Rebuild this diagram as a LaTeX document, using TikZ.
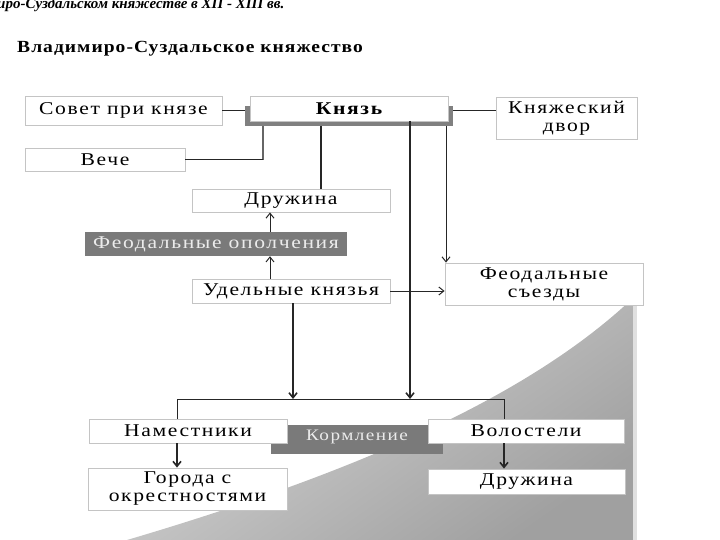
\documentclass[tikz,border=0pt]{standalone}
\usepackage{fontspec}
\setmainfont{Liberation Serif}
\newfontfamily\spaced[LetterSpace=9,FakeStretch=1.2]{Liberation Serif}
\newfontfamily\titlefont[LetterSpace=6,FakeStretch=1.15]{Liberation Serif}
\usetikzlibrary{arrows.meta}
\definecolor{boxgray}{HTML}{C4C4C4}
\definecolor{darkfill}{HTML}{7A7A7A}
\definecolor{shadowgray}{HTML}{808080}
\definecolor{bglight}{HTML}{D8D8D8}
\definecolor{bgdark}{HTML}{A0A0A0}
\tikzset{
  box/.style={draw=boxgray, line width=0.8pt, fill=white, inner sep=0pt,
    font=\spaced\fontsize{18}{18}\selectfont, align=center},
  darkbox/.style={fill=darkfill, draw=none, text=white!92!black, inner sep=0pt,
    font=\spaced\fontsize{18}{18}\selectfont},
  conn/.style={line width=1pt, draw=black!85},
  thickconn/.style={line width=1.6pt, draw=black!85},
  grayconn/.style={line width=2pt, draw=black!60},
  arr/.style={conn, -{Straight Barb[length=5pt,width=8pt]}},
  thickarr/.style={thickconn, -{Straight Barb[length=5pt,width=8pt]}},
}
\begin{document}
\begin{tikzpicture}[x=1pt,y=-1pt]
\useasboundingbox (0,0) rectangle (720,540);
% background shading
\shade[top color=bglight, bottom color=bgdark, shading angle=35]
  (127,540) .. controls (330,480) and (520,405) .. (633,298) -- (633,540) -- cycle;
\fill[white!88!black] (633,300) rectangle (637,540);
% titles
\node[anchor=base west, inner sep=0pt, font=\bfseries\itshape\fontsize{15}{15}\selectfont] (top) at (-3,8.5)
  {иро-Суздальском княжестве в XII - XIII вв.};
\node[anchor=base west, inner sep=0pt, font=\titlefont\bfseries\fontsize{17}{17}\selectfont] (title) at (17,53)
  {Владимиро-Суздальское княжество};
% boxes
\node[box, minimum width=197pt, minimum height=29pt] (sovet) at (123.5,110.5) {Совет при князе};
\node[fill=shadowgray, inner sep=0pt, minimum width=208pt, minimum height=20pt] (ksh) at (349,116) {};
\node[box, minimum width=198pt, minimum height=25pt, font=\spaced\bfseries\fontsize{18}{18}\selectfont] (knyaz) at (349,108.5) {Князь};
\node[box, minimum width=141pt, minimum height=42pt] (dvor) at (566.5,118) {Княжеский\\двор};
\node[box, minimum width=160pt, minimum height=23pt] (veche) at (105,160) {Вече};
\node[box, minimum width=198pt, minimum height=23pt] (druzh1) at (291,200.5) {Дружина};
\node[darkbox, minimum width=262pt, minimum height=24pt] (opol) at (216,244) {Феодальные ополчения};
\node[box, minimum width=198pt, minimum height=24pt] (udel) at (291,291) {Удельные князья};
\node[box, minimum width=198pt, minimum height=42pt] (sezdy) at (544,284) {Феодальные\\съезды};
\node[darkbox, minimum width=172pt, minimum height=29pt] (korm) at (357,439.5) {};
\node[inner sep=0pt, text=white!92!black, font=\spaced\fontsize{16}{16}\selectfont] (kormt) at (357,437) {Кормление};
\node[box, minimum width=198pt, minimum height=24pt] (namest) at (188,431) {Наместники};
\node[box, minimum width=196pt, minimum height=24pt] (volost) at (526,431) {Волостели};
\node[box, minimum width=199pt, minimum height=42pt] (goroda) at (187.5,489) {Города с\\окрестностями};
\node[box, minimum width=197pt, minimum height=25pt] (druzh2) at (526.5,481.5) {Дружина};
% named points
\coordinate (kA) at (263,126);
\coordinate (kB) at (321,126);
\coordinate (kC) at (410,121);
\coordinate (kD) at (446,126);
\coordinate (busL) at (177,399);
\coordinate (busR) at (504,399);
\coordinate (up) at (270,0);
% connectors
\draw[conn] (sovet.east) -- (sovet.east -| ksh.west);
\draw[conn] (ksh.east |- sovet.east) -- (dvor.west |- sovet.east);
\draw[grayconn] (kA) -- (kA |- veche.east);
\draw[conn] (kA |- veche.east) -- (veche.east);
\draw[thickconn] (kB) -- (kB |- druzh1.north);
\draw[thickarr] (kC) -- (kC |- busL);
\draw[arr] (kD) -- (kD |- sezdy.north);
\draw[arr] (up |- udel.north) -- (up |- opol.south);
\draw[arr] (up |- opol.north) -- (up |- druzh1.south);
\draw[arr] (udel.east) -- (udel.east -| sezdy.west);
\draw[thickarr] ([xshift=2pt]udel.south) -- ([xshift=2pt]udel.south |- busL);
\draw[conn] (busL |- namest.north) -- (busL) -- (busR) -- (busR |- volost.north);
\draw[thickarr] (busL |- namest.south) -- (busL |- goroda.north);
\draw[thickarr] (busR |- volost.south) -- (busR |- druzh2.north);
\end{tikzpicture}
\end{document}
